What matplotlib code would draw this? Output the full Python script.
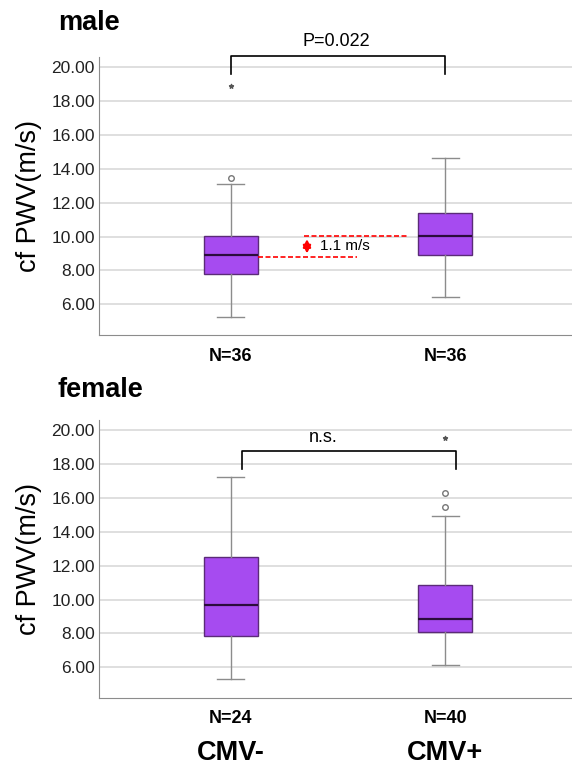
import matplotlib.pyplot as plt
import numpy as np

plt.rcParams['font.family'] = ['Liberation Sans', 'DejaVu Sans']

# dados (valores de cf PWV em m/s)
grupos = ["CMV-", "CMV+"]
n_male = [36, 36]
n_female = [24, 40]

# estatísticas: [whisker_low, q1, mediana, q3, whisker_high]
male_stats = [[5.22, 7.80, 8.94, 10.04, 13.13],
              [6.41, 8.92, 10.06, 11.37, 14.63]]
male_circ = [[13.47], []]
male_star = [[18.90], []]

female_stats = [[5.31, 7.82, 9.67, 12.49, 17.23],
                [6.14, 8.10, 8.86, 10.89, 14.96]]
female_circ = [[], [15.45, 16.33]]
female_star = [[], [19.53]]

yticks = [6, 8, 10, 12, 14, 16, 18, 20]

box_fill = "#a64bf0"
box_edge = "#5b2b78"
med_col = "#2b0c3c"
wh_col = "#8c8c8c"


def painel(ax, stats, circ, star, nlist):
    bxp = []
    for s in stats:
        bxp.append(dict(whislo=s[0], q1=s[1], med=s[2], q3=s[3], whishi=s[4], fliers=[]))
    ax.bxp(bxp, positions=[0, 1], widths=0.252, patch_artist=True, showfliers=False,
           boxprops=dict(facecolor=box_fill, edgecolor=box_edge, linewidth=1.0),
           medianprops=dict(color=med_col, linewidth=1.6),
           whiskerprops=dict(color=wh_col, linewidth=1.0),
           capprops=dict(color=wh_col, linewidth=1.0))
    for i in range(2):
        if circ[i]:
            ax.scatter([i] * len(circ[i]), circ[i], s=16, facecolors="white",
                       edgecolors="#777777", linewidths=1.0, zorder=3)
        if star[i]:
            ax.scatter([i] * len(star[i]), star[i], s=9, marker="*",
                       color="#555555", zorder=3)
    ax.set_xlim(-0.616, 1.592)
    ax.set_ylim(4.18, 20.62)
    ax.set_yticks(yticks)
    ax.set_yticklabels(["%.2f" % t for t in yticks], fontsize=12.5, color="#222222")
    ax.set_xticks([0, 1])
    ax.set_xticklabels(["N=%d" % n for n in nlist], fontsize=13, fontweight="bold")
    ax.tick_params(axis="y", length=0, pad=3)
    ax.tick_params(axis="x", length=0, pad=9)
    ax.yaxis.grid(True, color="#d9d9d9", linewidth=1.2)
    ax.set_axisbelow(True)
    for sp in ["top", "right"]:
        ax.spines[sp].set_visible(False)
    for sp in ["left", "bottom"]:
        ax.spines[sp].set_color("#8c8c8c")
    ax.set_ylabel("cf PWV(m/s)", fontsize=19.5, labelpad=7)


fig = plt.figure(figsize=(5.72, 7.67), dpi=100)
ax1 = fig.add_axes([0.173, 0.5632, 0.827, 0.3625])
ax2 = fig.add_axes([0.173, 0.0900, 0.827, 0.3624])

painel(ax1, male_stats, male_circ, male_star, n_male)
painel(ax2, female_stats, female_circ, female_star, n_female)

fig.text(0.101, 0.961, "male", fontsize=19.5, fontweight="bold", va="baseline")
fig.text(0.101, 0.482, "female", fontsize=19.5, fontweight="bold", va="baseline")

# colchete de significância - male
ax1.plot([0, 0, 1, 1], [19.6, 20.7, 20.7, 19.6], color="black", linewidth=1.2, clip_on=False)
ax1.text(0.49, 21.05, "P=0.022", ha="center", va="bottom", fontsize=13)

# diferença de mediana
ax1.plot([0.127, 0.59], [male_stats[0][2] - 0.13, male_stats[0][2] - 0.13],
         color="red", linestyle="--", linewidth=1.2, dashes=(3, 1.5))
ax1.plot([0.34, 0.82], [male_stats[1][2], male_stats[1][2]],
         color="red", linestyle="--", linewidth=1.2, dashes=(3, 1.5))
ax1.annotate("", xy=(0.355, 9.85), xytext=(0.355, 9.0),
             arrowprops=dict(arrowstyle="<|-|>,head_length=0.5,head_width=0.25",
                             color="red", lw=1.6, mutation_scale=9,
                             shrinkA=0, shrinkB=0))
ax1.text(0.415, 9.42, "1.1 m/s", ha="left", va="center", fontsize=11)

# colchete - female
ax2.plot([0.05, 0.05, 1.05, 1.05], [17.7, 18.77, 18.77, 17.7], color="black", linewidth=1.2)
ax2.text(0.43, 19.08, "n.s.", ha="center", va="bottom", fontsize=13)

# grupos no eixo x
for i, g in enumerate(grupos):
    ax2.text(i, -0.152, g, transform=ax2.get_xaxis_transform(), ha="center", va="top",
             fontsize=19.5, fontweight="bold")

fig.savefig("out.png", dpi=100)
